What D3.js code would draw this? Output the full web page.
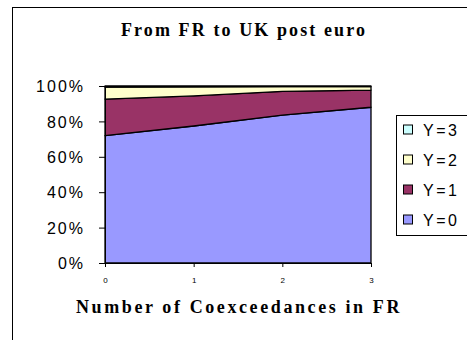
<!DOCTYPE html>
<html><head><meta charset="utf-8">
<script src="https://cdn.jsdelivr.net/npm/d3@7"></script>
<style>body{margin:0;background:#fff}svg{display:block}</style>
</head><body>
<script>
const categories = [0, 1, 2, 3];
const seriesNames = ["Y=0", "Y=1", "Y=2", "Y=3"];
const y0vals = [72.0, 77.4, 83.6, 88.0];
const y1vals = [20.6, 17.0, 13.4, 9.7];
const y2vals = [6.8, 5.1, 2.6, 1.9];
const y3vals = [0.6, 0.5, 0.4, 0.4];
const yTicks = [0, 20, 40, 60, 80, 100];
const colors = ["#9999ff", "#993366", "#ffffcc", "#ccffff"];

const W = 467, H = 340;
const svg = d3.select("body").append("svg").attr("width", W).attr("height", H);
svg.append("rect").attr("x", 12.5).attr("y", 7.5).attr("width", W).attr("height", H)
  .attr("fill", "#fff").attr("stroke", "#000").attr("stroke-width", 1);

const m = {l: 105, r: 371, t: 86, b: 263};
const x = d3.scaleLinear().domain([0, 3]).range([m.l, m.r]);
const y = d3.scaleLinear().domain([0, 100]).range([m.b, m.t]);

const rows = categories.map((c, i) => ({c, "Y=0": y0vals[i], "Y=1": y1vals[i], "Y=2": y2vals[i], "Y=3": y3vals[i]}));
const stack = d3.stack().keys(seriesNames).offset(d3.stackOffsetExpand);
const layers = stack(rows);
const area = d3.area().x(d => x(d.data.c)).y0(d => y(d[0] * 100)).y1(d => y(d[1] * 100));
svg.selectAll("path.layer").data(layers).join("path").attr("class", "layer")
  .attr("d", area).attr("fill", (d, i) => colors[i])
  .attr("stroke", "#000").attr("stroke-width", 1.3).attr("stroke-linejoin", "round");

// axes
const ya = svg.append("g").attr("transform", `translate(${m.l},0)`)
  .call(d3.axisLeft(y).tickValues(yTicks).tickFormat(d => d + "%").tickSize(6).tickSizeOuter(0));
ya.select(".domain").attr("stroke", "#000");
ya.selectAll("text").attr("font-family", "Liberation Sans, Arial, sans-serif").attr("font-size", 16).attr("letter-spacing", 2).attr("fill", "#000").attr("x", -20).attr("dy", "0.36em");
const xa = svg.append("g").attr("transform", `translate(0,${m.b})`)
  .call(d3.axisBottom(x).tickValues(categories).tickFormat(d3.format("d")).tickSize(4).tickSizeOuter(0));
xa.select(".domain").attr("stroke", "#000");
xa.selectAll("text").attr("font-family", "Liberation Sans, Arial, sans-serif").attr("font-size", 8).attr("fill", "#000").attr("y", 14).attr("dy", "0.7em");

svg.append("text").attr("x", 244).attr("y", 36).attr("text-anchor", "middle")
  .attr("font-family", "Liberation Serif, Times New Roman, serif").attr("font-weight", "bold").attr("font-size", 18)
  .attr("letter-spacing", 2.1).text("From FR to UK post euro");
svg.append("text").attr("x", 239).attr("y", 313).attr("text-anchor", "middle")
  .attr("font-family", "Liberation Serif, Times New Roman, serif").attr("font-weight", "bold").attr("font-size", 18)
  .attr("letter-spacing", 2.6).text("Number of Coexceedances in FR");

// legend
const lg = svg.append("g");
lg.append("rect").attr("x", 396.5).attr("y", 115.5).attr("width", 80).attr("height", 120)
  .attr("fill", "#fff").attr("stroke", "#000");
const order = [3, 2, 1, 0];
order.forEach((k, j) => {
  const cy = 130.5 + j * 30;
  lg.append("rect").attr("x", 403.5).attr("y", cy - 5.5).attr("width", 9).attr("height", 9)
    .attr("fill", colors[k]).attr("stroke", "#000");
  lg.append("text").attr("x", 423).attr("y", cy).attr("dy", "0.36em")
    .attr("font-family", "Liberation Sans, Arial, sans-serif").attr("font-size", 16).attr("letter-spacing", 2.5)
    .text(seriesNames[k]);
});
</script>
</body></html>
